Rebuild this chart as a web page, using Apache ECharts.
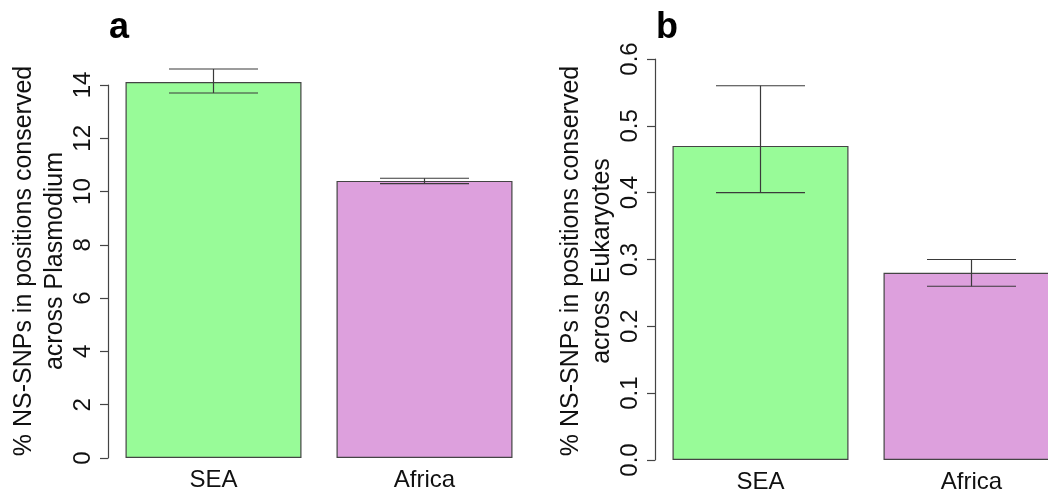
<!DOCTYPE html>
<html>
<head>
<meta charset="utf-8">
<script src="https://cdn.jsdelivr.net/npm/echarts@6/dist/echarts.min.js"></script>
<style>html,body{margin:0;padding:0;background:#fff}#c{width:1048px;height:489px}</style>
</head>
<body>
<div id="c"></div>
<script>
const categories = ['SEA', 'Africa'];
const barColors = ['#98FB98', '#DDA0DD'];

const valuesA = [14.11, 10.4];
const errLowA = [13.7, 10.3];
const errHighA = [14.6, 10.5];

const valuesB = [0.47, 0.28];
const errLowB = [0.40, 0.26];
const errHighB = [0.56, 0.30];

const titleA = '% NS-SNPs in positions conserved\nacross Plasmodium';
const titleB = '% NS-SNPs in positions conserved\nacross Eukaryotes';
const panelA = 'a';
const panelB = 'b';

const FONT = '"Liberation Sans", Arial, Helvetica, sans-serif';
const chart = echarts.init(document.getElementById('c'), null, {renderer: 'canvas'});

function errItem() {
  return function (params, api) {
    const x = api.value(0);
    const lo = api.coord([x, api.value(1)]);
    const hi = api.coord([x, api.value(2)]);
    const half = 44.5;
    const style = {stroke: '#3a3a3a', lineWidth: 1.2};
    return {
      type: 'group',
      children: [
        {type: 'line', shape: {x1: lo[0], y1: lo[1], x2: hi[0], y2: hi[1]}, style},
        {type: 'line', shape: {x1: lo[0] - half, y1: lo[1], x2: lo[0] + half, y2: lo[1]}, style},
        {type: 'line', shape: {x1: hi[0] - half, y1: hi[1], x2: hi[0] + half, y2: hi[1]}, style}
      ]
    };
  };
}

function yAxis(gi, max, interval, fmt) {
  return {
    type: 'value', gridIndex: gi, min: 0, max: max, interval: interval,
    splitLine: {show: false},
    axisLine: {show: true, lineStyle: {color: '#444', width: 1.2}},
    axisTick: {show: true, length: 8, lineStyle: {color: '#444', width: 1.2}},
    axisLabel: {rotate: 90, fontSize: 24, color: '#111', fontFamily: FONT, margin: 13, formatter: fmt}
  };
}
function xAxis(gi) {
  return {
    type: 'category', gridIndex: gi, data: categories,
    axisLine: {show: false}, axisTick: {show: false},
    axisLabel: {fontSize: 24, color: '#111', fontFamily: FONT, margin: 10}
  };
}
function bars(gi, vals) {
  return {
    type: 'bar', xAxisIndex: gi, yAxisIndex: gi, barWidth: 176, clip: false,
    data: vals.map((v, i) => ({value: v, itemStyle: {color: barColors[i]}})),
    itemStyle: {borderColor: '#444', borderWidth: 1.2}
  };
}
function errs(gi, lo, hi) {
  return {
    type: 'custom', xAxisIndex: gi, yAxisIndex: gi, clip: false, z: 5,
    renderItem: errItem(),
    data: categories.map((c, i) => [i, lo[i], hi[i]])
  };
}

chart.setOption({
  animation: false,
  grid: [
    {left: 108, width: 422, top: 85, bottom: 31, containLabel: false, outerBoundsMode: 'none'},
    {left: 655, width: 422, top: 59, bottom: 29, containLabel: false, outerBoundsMode: 'none'}
  ],
  xAxis: [xAxis(0), xAxis(1)],
  yAxis: [yAxis(0, 14, 2), yAxis(1, 0.6, 0.1, v => v.toFixed(1))],
  series: [
    bars(0, valuesA), errs(0, errLowA, errHighA),
    bars(1, valuesB), errs(1, errLowB, errHighB)
  ],
  graphic: [
    {type: 'text', x: 40, y: 261, rotation: Math.PI / 2,
     style: {text: titleA, font: '25px ' + FONT, fill: '#111', align: 'center', verticalAlign: 'middle', lineHeight: 31}},
    {type: 'text', x: 587, y: 261, rotation: Math.PI / 2,
     style: {text: titleB, font: '25px ' + FONT, fill: '#111', align: 'center', verticalAlign: 'middle', lineHeight: 31}},
    {type: 'text', x: 109, y: 46,
     style: {text: panelA, font: 'bold 36px ' + FONT, fill: '#000', align: 'left', verticalAlign: 'bottom'}},
    {type: 'text', x: 656, y: 46,
     style: {text: panelB, font: 'bold 36px ' + FONT, fill: '#000', align: 'left', verticalAlign: 'bottom'}}
  ]
});
</script>
</body>
</html>
